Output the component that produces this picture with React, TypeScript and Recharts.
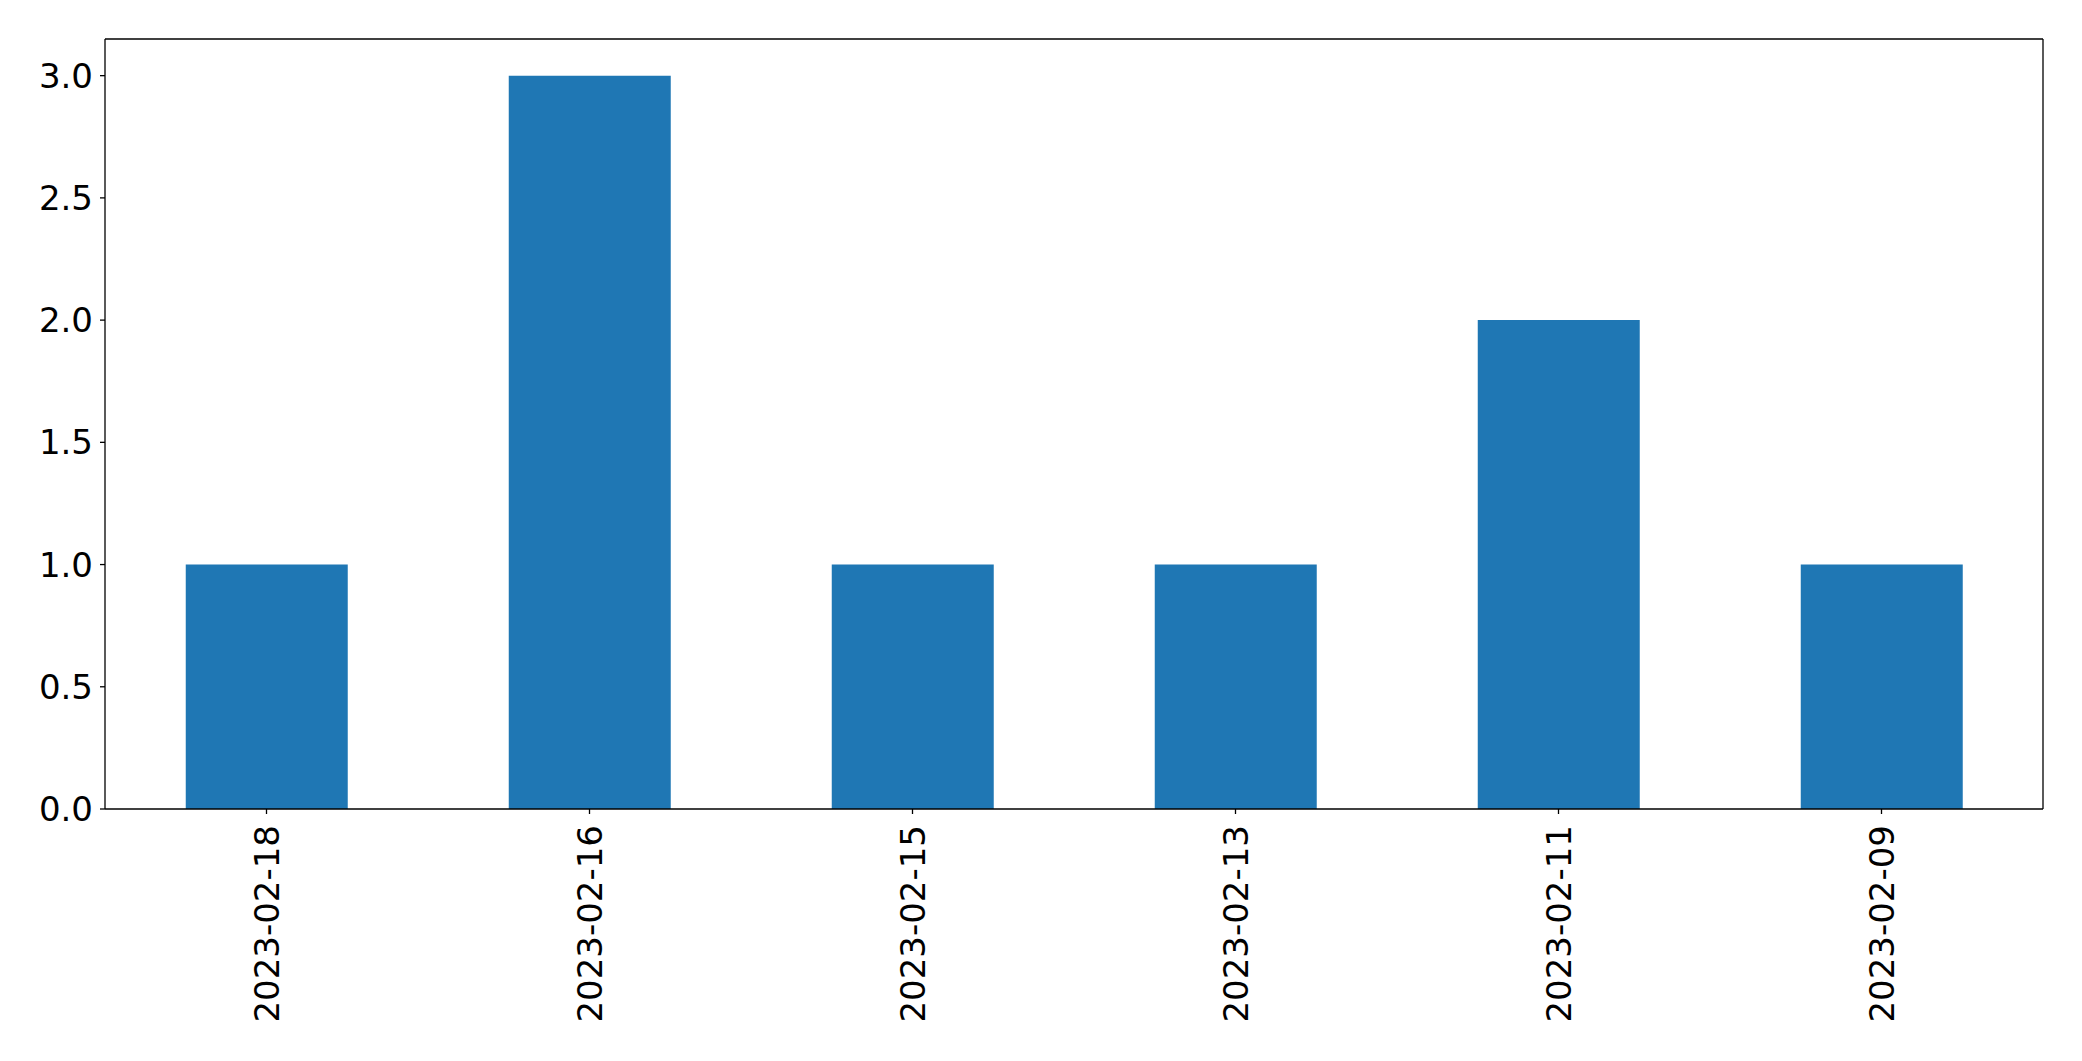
import { BarChart, Bar, XAxis, YAxis, CartesianGrid } from 'recharts';

const dates = ['2023-02-18', '2023-02-16', '2023-02-15', '2023-02-13', '2023-02-11', '2023-02-09'];
const counts = [1, 3, 1, 1, 2, 1];
const yTicks = [0, 0.5, 1, 1.5, 2, 2.5, 3];

const data = dates.map((d, i) => ({ date: d, count: counts[i] }));

const FONT = '"DejaVu Sans", sans-serif';
const FS = 34;

function DateTick(props: any) {
  const { x, y, payload } = props;
  return (
    <text
      x={0}
      y={0}
      transform={`translate(${x},${y + 9}) rotate(-90)`}
      textAnchor="end"
      dominantBaseline="central"
      fill="#000"
      fontSize={FS}
      fontFamily={FONT}
    >
      {payload.value}
    </text>
  );
}

export default function App() {
  return (
    <div style={{ position: 'fixed', left: 0, top: 0, background: '#fff' }}>
      <BarChart
        width={2082}
        height={1061}
        data={data}
        margin={{ top: 39, right: 39, left: 0, bottom: 0 }}
        barCategoryGap="25%"
      >
        {/* top and right frame lines */}
        <CartesianGrid
          stroke="#000"
          strokeWidth={1.3}
          horizontalCoordinatesGenerator={({ offset }: any) => [offset.top]}
          verticalCoordinatesGenerator={({ offset }: any) => [offset.left + offset.width]}
        />
        <XAxis
          dataKey="date"
          height={252}
          tickSize={5}
          axisLine={{ stroke: '#000', strokeWidth: 1.3 }}
          tickLine={{ stroke: '#000', strokeWidth: 1.3 }}
          tick={<DateTick />}
          interval={0}
        />
        <YAxis
          width={105}
          domain={[0, 3.15]}
          ticks={yTicks}
          allowDataOverflow
          tickSize={5}
          tickMargin={7}
          tickFormatter={(v: number) => v.toFixed(1)}
          axisLine={{ stroke: '#000', strokeWidth: 1.3 }}
          tickLine={{ stroke: '#000', strokeWidth: 1.3 }}
          tick={{ fill: '#000', fontSize: FS, fontFamily: FONT }}
        />
        <Bar dataKey="count" fill="#1f77b4" isAnimationActive={false} />
      </BarChart>
    </div>
  );
}
